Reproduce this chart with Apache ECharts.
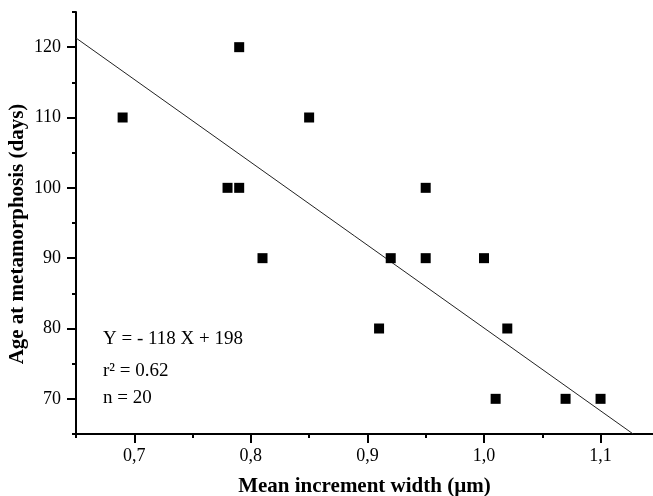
<!DOCTYPE html>
<html>
<head>
<meta charset="utf-8">
<script src="https://cdn.jsdelivr.net/npm/echarts@6/dist/echarts.min.js"></script>
<style>
html,body{margin:0;padding:0;background:#fff;}
#chartmain{width:653px;height:496px;}
</style>
</head>
<body>
<div id="chartmain"></div>
<script>
// measured points (some of the n=20 overlap)
var widthX=[0.69,0.78,0.79,0.79,0.81,0.85,0.91,0.92,0.95,0.95,1.00,1.01,1.02,1.07,1.10];
var ageY=[110,100,100,120,90,110,80,90,100,90,90,70,80,70,70];
// regression line end points
var fitX=[0.65,1.128];
var fitY=[121.3,65];
var xMajor=[0.7,0.8,0.9,1.0,1.1];
var xMinor=[0.65,0.75,0.85,0.95,1.05];
var yMajor=[70,80,90,100,110,120];
var yMinor=[65,75,85,95,105,115,125];
var statLines=['Y = - 118 X + 198','r\u00b2 = 0.62','n = 20'];

var font='"Liberation Serif","Times New Roman",serif';

function pairs(xs,ys) {
	var out=[];
	for(var i=0;i<xs.length;i++) out.push([xs[i],ys[i]]);
	return out;
}

var myChart=echarts.init(document.getElementById("chartmain"));
var gridPos={left:76,right:0,top:12,bottom:62,outerBoundsMode:'none',containLabel:false};
option={
	animation:false,
	backgroundColor:'#fff',
	grid:[
		echarts.util.extend({},gridPos),
		echarts.util.extend({},gridPos)
	],
	xAxis:[{
		type:'value',gridIndex:0,min:0.65,max:1.145,
		axisLine:{show:true,lineStyle:{color:'#000',width:2}},
		axisTick:{show:true,length:9,lineStyle:{color:'#000',width:2},customValues:xMajor},
		axisLabel:{
			color:'#000',fontFamily:font,fontSize:18,margin:13,customValues:xMajor,
			formatter:function(v){return v.toFixed(1).replace('.',',');}
		},
		splitLine:{show:false},
		name:'Mean increment width (\u00b5m)',nameLocation:'middle',nameGap:42,nameMoveOverlap:false,
		nameTextStyle:{color:'#000',fontFamily:font,fontSize:21,fontWeight:'bold'}
	},{
		type:'value',gridIndex:1,min:0.65,max:1.145,
		axisLine:{show:false},
		axisTick:{show:true,length:4,lineStyle:{color:'#000',width:2},customValues:xMinor},
		axisLabel:{show:false},
		splitLine:{show:false}
	}],
	yAxis:[{
		type:'value',gridIndex:0,min:65,max:125,
		axisLine:{show:true,lineStyle:{color:'#000',width:2}},
		axisTick:{show:true,length:9,lineStyle:{color:'#000',width:2},customValues:yMajor},
		axisLabel:{color:'#000',fontFamily:font,fontSize:18,margin:15,customValues:yMajor},
		splitLine:{show:false},
		name:'Age at metamorphosis (days)',nameLocation:'middle',nameGap:48,nameMoveOverlap:false,
		nameTextStyle:{color:'#000',fontFamily:font,fontSize:21,fontWeight:'bold',padding:[0,22,0,0]}
	},{
		type:'value',gridIndex:1,min:65,max:125,
		axisLine:{show:false},
		axisTick:{show:true,length:4,lineStyle:{color:'#000',width:2},customValues:yMinor},
		axisLabel:{show:false},
		splitLine:{show:false}
	}],
	graphic:[{
		type:'group',left:103,top:330,
		children:statLines.map(function(t,i){
			return {
				type:'text',x:0,y:[0,32,59][i],
				style:{text:t,fill:'#000',font:'19px '+font}
			};
		})
	}],
	series:[{
		name:'fit',type:'line',xAxisIndex:0,yAxisIndex:0,
		data:pairs(fitX,fitY),showSymbol:false,symbol:'none',
		lineStyle:{color:'#222',width:1},
		z:1
	},{
		name:'age',type:'scatter',xAxisIndex:0,yAxisIndex:0,
		data:pairs(widthX,ageY),
		symbol:'rect',symbolSize:10,
		itemStyle:{color:'#000',opacity:1},
		z:2
	}]
};
myChart.setOption(option);
</script>
</body>
</html>
